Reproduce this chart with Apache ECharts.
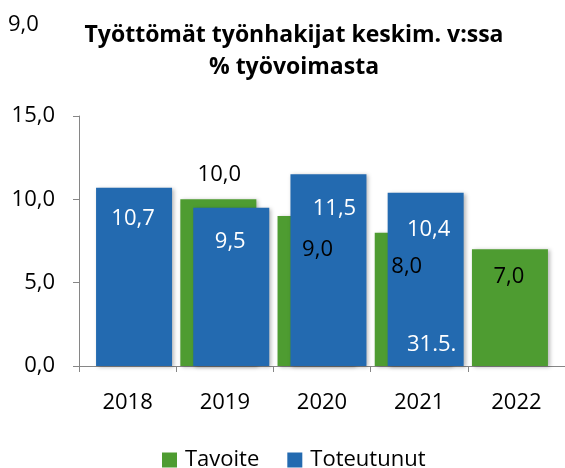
<!DOCTYPE html>
<html><head><meta charset="utf-8">
<script src="https://cdn.jsdelivr.net/npm/echarts@6/dist/echarts.min.js"></script>
<style>html,body{margin:0;padding:0;background:#fff}#c{width:565px;height:468px}</style>
</head><body><div id="c"></div>
<script>
const categories = ['2018', '2019', '2020', '2021', '2022'];
const tavoite = [null, 10.0, 9.0, 8.0, 7.0];
const toteutunut = [10.7, 9.5, 11.5, 10.4, null];
const yTicks = [0, 5, 10, 15];
const seriesNames = ['Tavoite', 'Toteutunut'];
const titleLines = ['Työttömät työnhakijat keskim. v:ssa', '% työvoimasta'];
const strayLabel = '9,0';
const noteCategory = '2021';
const noteValue = 1.3;
const noteText = '31.5.';

const FONT = '"Open Sans", "Noto Sans", sans-serif';
const GREEN = '#4E9C31';
const BLUE = '#236AB0';
const fmt = v => v.toFixed(1).replace('.', ',');

// label placement (style only): [dx, dy from bar top]
const greenLabelPos = [null, [1, -25], [2, 34], [-6, 34], [-1, 27]];
const blueLabelPos = [[-1, 31], [-1, 34], [6, 34], [3, 37], null];

function buildData(values, pos, color) {
  return values.map((v, i) => {
    if (v == null) return null;
    const p = pos[i];
    return {
      value: v,
      label: {
        show: true, position: ['50%', p[1]], offset: [p[0], 0],
        align: 'center', verticalAlign: 'middle',
        color: color, fontSize: 22, fontFamily: FONT,
        formatter: d => fmt(d.value)
      }
    };
  });
}

const shadow = { shadowColor: 'rgba(0,0,0,0.28)', shadowBlur: 4, shadowOffsetX: 2, shadowOffsetY: 1 };

const chart = echarts.init(document.getElementById('c'), null, { renderer: 'canvas' });
chart.setOption({
  animation: false,
  backgroundColor: '#fff',
  graphic: [
    { type: 'text', x: 8, y: 25, style: { text: strayLabel, font: '22px ' + FONT, fill: '#000', textVerticalAlign: 'middle' } },
    { type: 'text', x: 294, y: 35, style: { text: titleLines[0], font: 'bold 23px ' + FONT, fill: '#000', textAlign: 'center', textVerticalAlign: 'middle' } },
    { type: 'text', x: 294, y: 67, style: { text: titleLines[1], font: 'bold 23px ' + FONT, fill: '#000', textAlign: 'center', textVerticalAlign: 'middle' } }
  ],
  legend: {
    data: seriesNames, left: 157, top: 444, itemWidth: 15, itemHeight: 15, itemGap: 28,
    icon: 'rect',
    textStyle: { fontSize: 22, fontFamily: FONT, color: '#000', padding: [0, 0, 0, 3] }
  },
  grid: { left: 79, right: 0, top: 116, bottom: 102, containLabel: false },
  xAxis: {
    type: 'category', data: categories,
    axisLine: { lineStyle: { color: '#868686', width: 1 } },
    axisTick: { show: true, length: 6, lineStyle: { color: '#868686' } },
    axisLabel: { fontSize: 22, fontFamily: FONT, color: '#000', margin: 26 }
  },
  yAxis: {
    type: 'value', min: yTicks[0], max: yTicks[yTicks.length - 1], interval: yTicks[1] - yTicks[0],
    axisLine: { show: true, lineStyle: { color: '#868686', width: 1 } },
    axisTick: { show: true, length: 6, lineStyle: { color: '#868686' } },
    splitLine: { show: false },
    axisLabel: { fontSize: 22, fontFamily: FONT, color: '#000', margin: 24, formatter: v => fmt(v) }
  },
  series: [
    {
      name: seriesNames[0], type: 'bar', barWidth: 76, barGap: '-83%',
      itemStyle: Object.assign({ color: GREEN }, shadow),
      data: buildData(tavoite, greenLabelPos, '#000')
    },
    {
      name: seriesNames[1], type: 'bar', barWidth: 76, barGap: '-83%',
      itemStyle: Object.assign({ color: BLUE }, shadow),
      data: buildData(toteutunut, blueLabelPos, '#fff'),
      markPoint: {
        symbol: 'rect', symbolSize: 0,
        label: { show: true, position: 'inside', offset: [6, 0], color: '#fff', fontSize: 22, fontFamily: FONT, formatter: noteText },
        data: [{ coord: [noteCategory, noteValue] }]
      }
    }
  ]
});
</script></body></html>
